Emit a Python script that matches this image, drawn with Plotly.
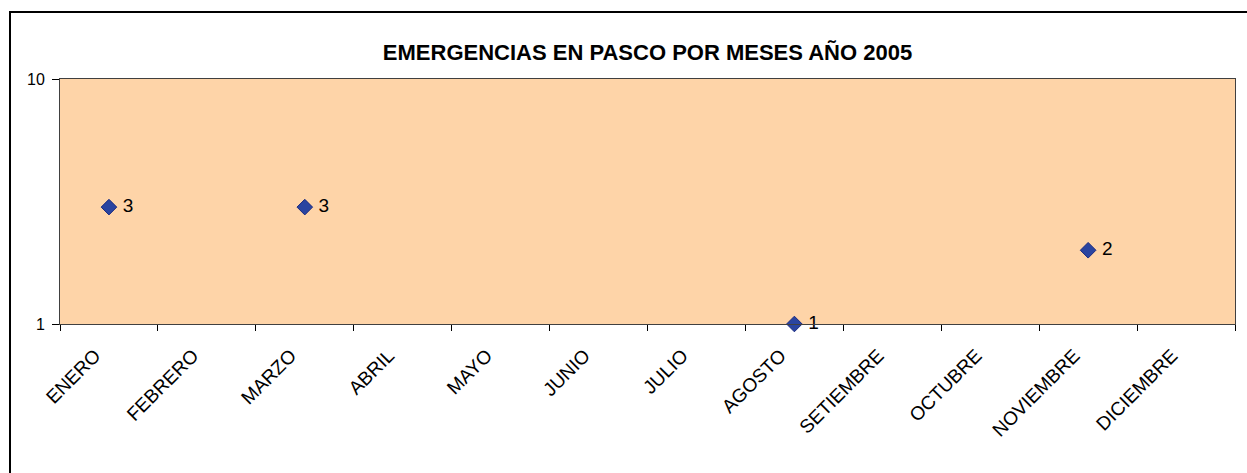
import plotly.graph_objects as go

months = ["ENERO", "FEBRERO", "MARZO", "ABRIL", "MAYO", "JUNIO", "JULIO",
          "AGOSTO", "SETIEMBRE", "OCTUBRE", "NOVIEMBRE", "DICIEMBRE"]
point_months = ["ENERO", "MARZO", "AGOSTO", "NOVIEMBRE"]
point_values = [3, 3, 1, 2]
y_ticks = [1, 10]
title_text = "EMERGENCIAS EN PASCO POR MESES AÑO 2005"

FONT = "Liberation Sans, Arial, sans-serif"

fig = go.Figure()
fig.add_trace(go.Scatter(
    x=point_months, y=point_values,
    mode="markers+text",
    text=[" " + str(v) for v in point_values],
    textposition="middle right",
    textfont=dict(family=FONT, size=19, color="black"),
    marker=dict(symbol="diamond", size=12, color="#2A44A0",
                line=dict(color="#1A2A80", width=1)),
    cliponaxis=False,
    showlegend=False,
))

W, H = 1247, 473
L, R, T, B = 60, 12, 79, 149
pw, ph = W - L - R, H - T - B

def px_x(p):
    return (p - L) / pw

def px_y(p):
    return (H - B - p) / ph

fig.update_layout(
    width=W, height=H,
    margin=dict(l=L, r=R, t=T, b=B),
    paper_bgcolor="white",
    plot_bgcolor="#FED4A8",
    font=dict(family=FONT, color="black"),
    title=dict(text="<b>" + title_text + "</b>", x=0.5, xanchor="center",
               xref="paper", y=1 - 52 / H, yanchor="middle",
               font=dict(family=FONT, size=22, color="black")),
    xaxis=dict(
        type="category",
        categoryorder="array", categoryarray=months,
        range=[-0.5, 11.5],
        tickmode="array", tickvals=months, ticktext=months,
        tickson="boundaries",
        ticks="outside", ticklen=6, tickcolor="black", tickwidth=1,
        tickangle=-45,
        ticklabelstandoff=12,
        ticklabelshift=-14,
        tickfont=dict(family=FONT, size=19, color="black"),
        showline=True, linecolor="#404040", linewidth=1, mirror=True,
        showgrid=False, zeroline=False,
    ),
    yaxis=dict(
        type="log", range=[0, 1],
        tickmode="array", tickvals=y_ticks, ticktext=[str(v) for v in y_ticks],
        ticks="outside", ticklen=7, tickcolor="black", tickwidth=1,
        ticklabelstandoff=4,
        tickfont=dict(family=FONT, size=16, color="black"),
        showline=True, linecolor="#404040", linewidth=1, mirror=True,
        showgrid=False, zeroline=False,
    ),
    shapes=[dict(
        type="rect", xref="paper", yref="paper",
        x0=px_x(10), x1=px_x(1265), y0=px_y(12), y1=px_y(490),
        line=dict(color="black", width=2), fillcolor="rgba(0,0,0,0)",
        layer="above",
    )],
)

fig.write_html("out.html",
               config={"displayModeBar": False},
               post_script="document.body.style.margin='0';document.body.style.padding='0';")
